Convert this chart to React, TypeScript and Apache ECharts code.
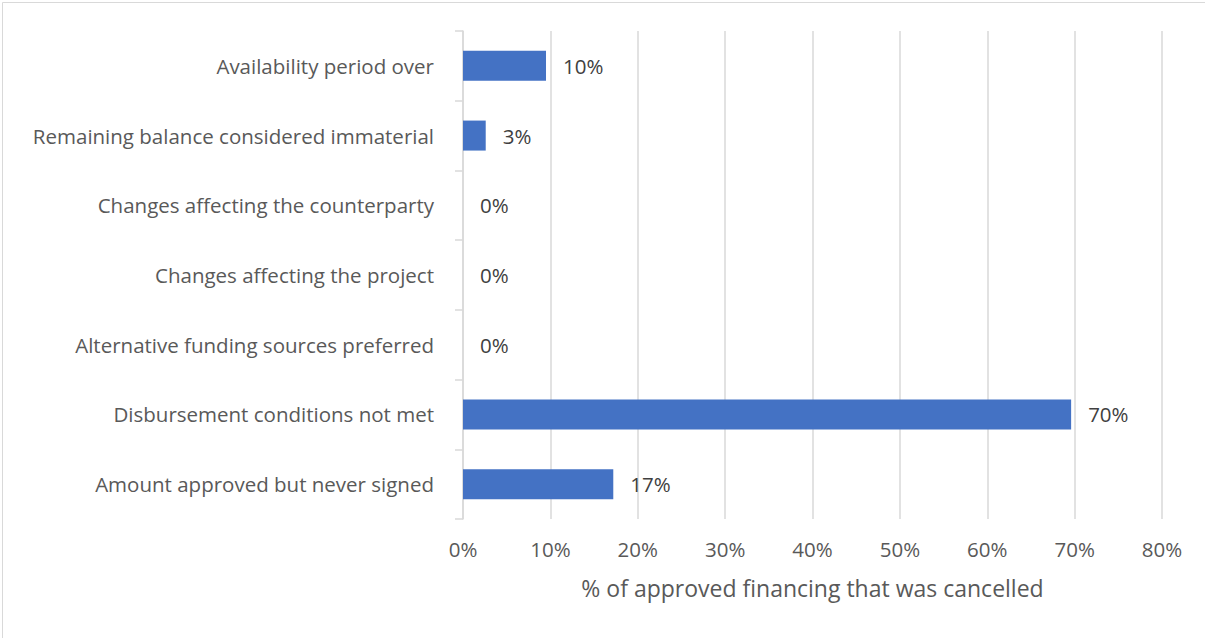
import React, { useEffect, useRef } from "react";
import * as echarts from "echarts";

const categories: string[] = [
  "Availability period over",
  "Remaining balance considered immaterial",
  "Changes affecting the counterparty",
  "Changes affecting the project",
  "Alternative funding sources preferred",
  "Disbursement conditions not met",
  "Amount approved but never signed",
];

const cancelledShare: number[] = [9.5, 2.6, 0, 0, 0, 69.6, 17.2];

const axisMin = 0;
const axisMax = 80;
const axisStep = 10;
const axisTitle = "% of approved financing that was cancelled";

const FONT = "Open Sans";

export default function App() {
  const ref = useRef<HTMLDivElement>(null);

  useEffect(() => {
    document.body.style.margin = "0";
    if (!ref.current) return;
    const chart = echarts.init(ref.current, null, { renderer: "svg" });
    chart.setOption({
      animation: false,
      backgroundColor: "#ffffff",
      textStyle: { fontFamily: FONT },
      graphic: [
        {
          type: "rect",
          left: 0,
          top: 0,
          shape: { x: 0.5, y: 0.5, width: 1203, height: 636 },
          style: { fill: "none", stroke: "#d9d9d9", lineWidth: 1 },
          silent: true,
        },
      ],
      grid: { left: 463, right: 43, top: 31, bottom: 119, containLabel: false },
      xAxis: {
        type: "value",
        min: axisMin,
        max: axisMax,
        interval: axisStep,
        name: axisTitle,
        nameLocation: "middle",
        nameGap: 57,
        nameTextStyle: { color: "#595959", fontSize: 23, fontFamily: FONT },
        axisLabel: {
          formatter: "{value}%",
          color: "#595959",
          fontSize: 20.5,
          fontFamily: FONT,
          margin: 19,
        },
        axisLine: { show: false },
        axisTick: { show: false },
        splitLine: { show: true, lineStyle: { color: "#d9d9d9", width: 1.5 } },
      },
      yAxis: {
        type: "category",
        inverse: true,
        data: categories,
        axisLine: { show: true, lineStyle: { color: "#d9d9d9", width: 1.5 } },
        axisTick: { show: true, length: 8, lineStyle: { color: "#d9d9d9", width: 1.5 } },
        axisLabel: {
          color: "#595959",
          fontSize: 20.5,
          fontFamily: FONT,
          margin: 29,
        },
        splitLine: { show: false },
      },
      series: [
        {
          type: "bar",
          data: cancelledShare,
          barWidth: 30,
          itemStyle: { color: "#4472C4" },
          label: {
            show: true,
            position: "right",
            distance: 17,
            color: "#404040",
            fontSize: 20.5,
            fontFamily: FONT,
            formatter: (p: any) => `${Math.round(p.value)}%`,
          },
        },
      ],
    });
    return () => chart.dispose();
  }, []);

  return <div ref={ref} style={{ width: 1205, height: 638 }} />;
}
